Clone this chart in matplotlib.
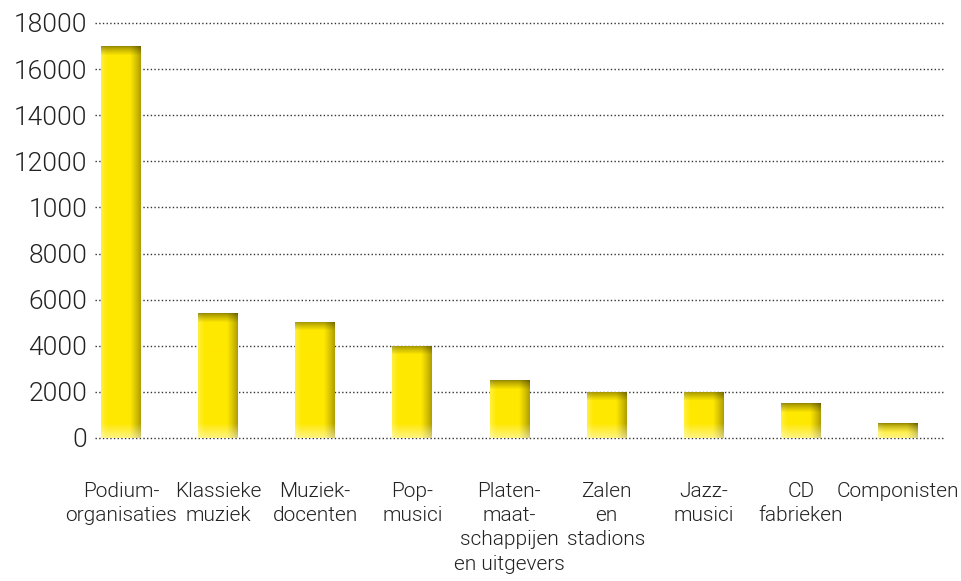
import numpy as np
import matplotlib
matplotlib.use('Agg')
import matplotlib.pyplot as plt
from matplotlib.colors import to_rgb

categories = ['Podium-\norganisaties', 'Klassieke\nmuziek', 'Muziek-\ndocenten',
              'Pop-\nmusici', 'Platen-\nmaat-\nschappijen\nen uitgevers',
              'Zalen\nen\nstadions', 'Jazz-\nmusici', 'CD\nfabrieken', 'Componisten']
values = [17000, 5400, 5050, 4000, 2500, 2000, 2000, 1500, 650]
ytick_values = [0, 2000, 4000, 6000, 8000, 10000, 12000, 14000, 16000, 18000]
ytick_labels = ['0', '2000', '4000', '6000', '8000', '1000', '12000', '14000', '16000', '18000']

plt.rcParams['font.family'] = ['Roboto', 'DejaVu Sans']
plt.rcParams['font.weight'] = 300

fig = plt.figure(figsize=(9.62, 5.81), dpi=100)
ax = fig.add_axes([95 / 962, 0.2422, 850 / 962, 0.7222])

x = np.arange(len(values))
bars = ax.bar(x, values, width=0.41, color='none', edgecolor='none', zorder=3)

# gradient fill for the bars
yel = np.array(to_rgb('#ffe800'))
dark = np.array(to_rgb('#b0a000'))
light = np.array(to_rgb('#fff03c'))
ncol = 40
u = np.linspace(0, 1, ncol)
row = np.zeros((ncol, 3))
for j, t in enumerate(u):
    if t < 0.15:
        c = light + (yel - light) * (t / 0.15)
    elif t < 0.72:
        c = yel
    else:
        c = yel + (dark - yel) * ((t - 0.72) / 0.28) ** 1.2
    row[j] = c

px_per_unit = 415 / 18000
for b, v in zip(bars, values):
    h_px = max(int(round(v * px_per_unit)), 2)
    img = np.tile(row, (h_px, 1, 1))
    top = min(9, h_px)
    for i in range(top):
        f = 0.6 + 0.4 * (i / 9) ** 0.8
        img[i] = img[i] * f
    bot = min(14, h_px)
    for i in range(bot):
        w = 0.5 * (1 - i / 14)
        img[h_px - 1 - i] = img[h_px - 1 - i] * (1 - w) + w
    x0 = b.get_x()
    im = ax.imshow(img, extent=[x0, x0 + b.get_width(), 0, v], aspect='auto',
                   interpolation='bilinear', zorder=3)
    im.set_clip_path(b)

ax.set_xlim(-0.268, 8.486)
ax.set_ylim(-100, 18100)

ax.set_yticks(ytick_values)
ax.set_yticklabels(ytick_labels)
ax.set_xticks(x)
ax.set_xticklabels(categories, linespacing=1.35, multialignment='center')
ax.tick_params(axis='y', length=0, pad=5.5, labelsize=19, labelcolor='#222222')
ax.tick_params(axis='x', length=0, pad=30, labelsize=15, labelcolor='#222222')
for lab in ax.get_xticklabels():
    lab.set_verticalalignment('top')

ax.grid(axis='y', linestyle=':', color='#333333', linewidth=1, zorder=0)
ax.set_axisbelow(True)
for s in ax.spines.values():
    s.set_visible(False)

fig.savefig('out.png', dpi=100)
